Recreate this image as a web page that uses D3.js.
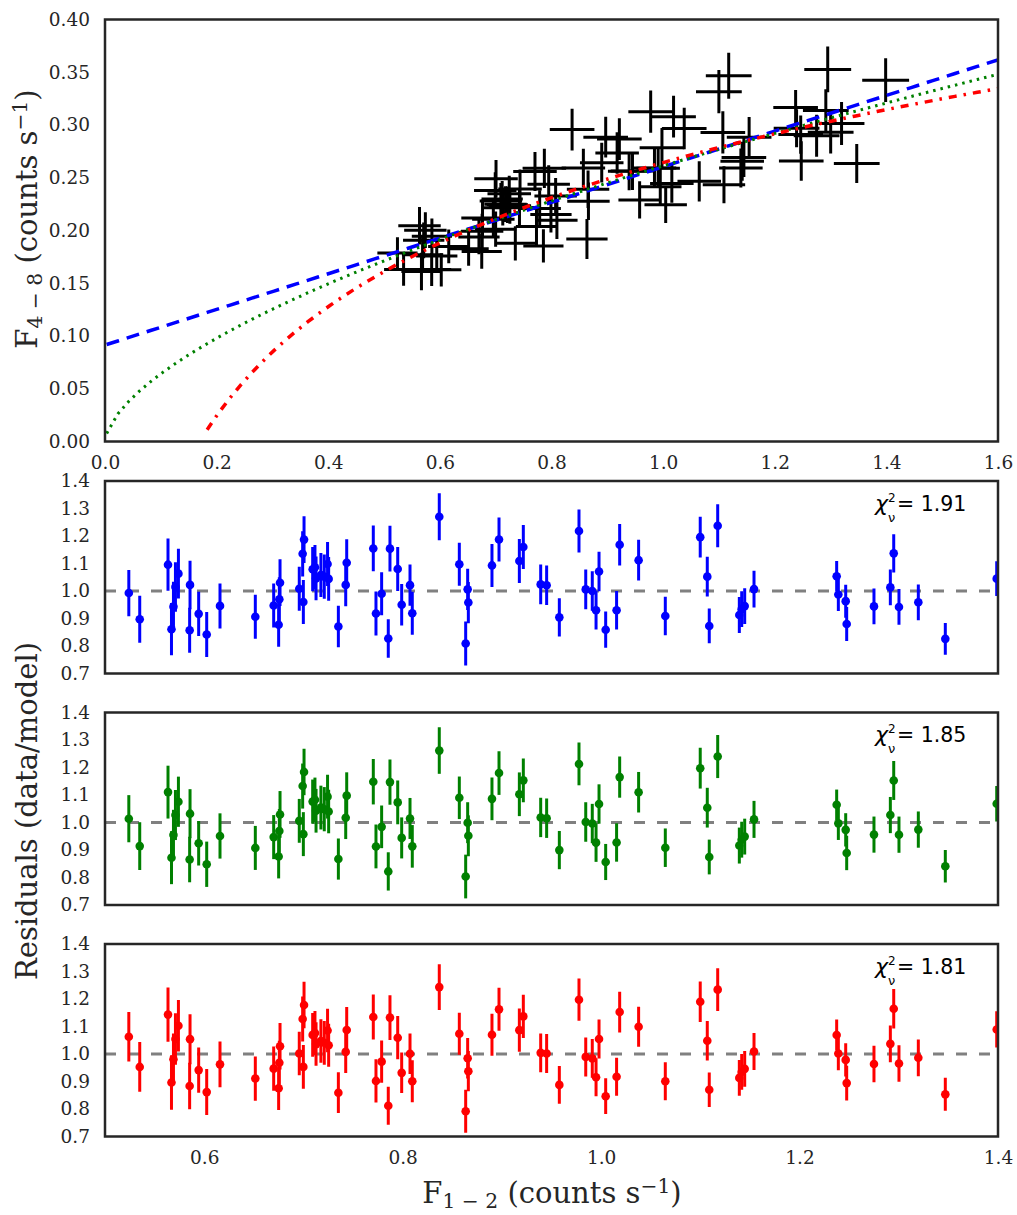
<!DOCTYPE html>
<html>
<head>
<meta charset="utf-8">
<script src="https://cdn.jsdelivr.net/npm/d3@7"></script>
<style>
  body { margin: 0; background: #ffffff; }
  svg { display: block; }
</style>
</head>
<body>
<svg id="chart" width="1017" height="1215"></svg>
<script>
// Soft-band flux F(1-2) and its 1-sigma error (counts/s)
const fluxSoft = [0.524,0.535,0.5635,0.567,0.569,0.571,0.574,0.5857,0.5853,0.5944,
  0.6025,0.6159,0.6515,0.670,0.6757,0.6764,0.6750,0.6958,0.6999,0.6992,
  0.7006,0.7093,0.7116,0.7127,0.7176,0.7210,0.7243,0.7254,0.7352,0.7436,
  0.7426,0.7704,0.7731,0.7788,0.7855,0.7872,0.7950,0.799,0.8074,0.8097,
  0.8369,0.8571,0.8655,0.8662,0.8635,0.890,0.8971,0.9176,0.9216,0.9391,
  0.9451,0.9579,0.9777,0.9845,0.9911,0.9949,0.9979,1.0046,1.0156,1.0187,
  1.0378,1.0647,1.0999,1.107,1.109,1.1175,1.1393,1.1417,1.1447,1.1541,
  1.2374,1.2391,1.2465,1.2475,1.275,1.2915,1.2949,1.3002,1.3197,1.3469,1.3987];
const errSoft = [0.036,0.035,0.038,0.036,0.037,0.037,0.038,0.036,0.035,0.037,
  0.036,0.037,0.036,0.037,0.038,0.038,0.036,0.038,0.037,0.038,
  0.039,0.038,0.037,0.038,0.038,0.037,0.039,0.038,0.036,0.039,
  0.037,0.039,0.037,0.038,0.036,0.039,0.038,0.037,0.038,0.037,
  0.040,0.039,0.038,0.038,0.037,0.039,0.040,0.039,0.040,0.038,
  0.039,0.038,0.040,0.039,0.039,0.038,0.040,0.038,0.039,0.040,
  0.040,0.039,0.041,0.040,0.038,0.041,0.039,0.039,0.040,0.040,
  0.040,0.041,0.040,0.040,0.041,0.041,0.042,0.041,0.041,0.041,0.042];

// Hard-band flux F(4-8) and its 1-sigma error (counts/s)
const fluxHard = [0.1786,0.1631,0.2045,0.1612,0.1769,0.1907,0.2003,0.1946,0.1631,0.1759,
  0.1627,0.1849,0.1826,0.1938,0.1994,0.2119,0.1802,0.2107,0.2013,0.2379,
  0.2490,0.2280,0.2299,0.2216,0.2250,0.2244,0.2348,0.2234,0.1878,0.2394,
  0.2217,0.2559,0.2039,0.2208,0.1854,0.2590,0.2438,0.2151,0.2327,0.2098,
  0.2957,0.2592,0.2391,0.2278,0.1920,0.2643,0.2885,0.2734,0.2867,0.2561,
  0.2564,0.2290,0.3126,0.2593,0.2589,0.2414,0.2785,0.2244,0.2446,0.3079,
  0.2967,0.2466,0.3316,0.2930,0.2434,0.3467,0.2592,0.2656,0.2692,0.2884,
  0.3167,0.2969,0.2909,0.2659,0.2897,0.3137,0.3527,0.2931,0.3015,0.2635,0.3425];
const errHard = [0.0151,0.0155,0.0177,0.0178,0.0169,0.0169,0.0170,0.0168,0.0156,0.0154,
  0.0158,0.0160,0.0161,0.0164,0.0164,0.0175,0.0164,0.0167,0.0168,0.0172,
  0.0178,0.0170,0.0171,0.0169,0.0170,0.0172,0.0171,0.0170,0.0162,0.0185,
  0.0169,0.0184,0.0178,0.0174,0.0157,0.0186,0.0181,0.0170,0.0171,0.0178,
  0.0198,0.0184,0.0178,0.0178,0.0190,0.0189,0.0194,0.0197,0.0198,0.0180,
  0.0181,0.0177,0.0200,0.0186,0.0186,0.0182,0.0187,0.0172,0.0184,0.0198,
  0.0197,0.0190,0.0205,0.0201,0.0176,0.0219,0.0185,0.0185,0.0185,0.0192,
  0.0165,0.0180,0.0181,0.0187,0.0199,0.0201,0.0217,0.0202,0.0204,0.0185,0.0207];

// Fitted model parameters
const linearFit = [0.0914, 0.169];   // F48 = a + b * F12
const powerFit  = [0.2613, 0.61];    // F48 = A * F12^g
const logFit    = [0.2644, 0.1491];  // F48 = a + b * ln(F12)
const chiSquared = ["1.91", "1.85", "1.81"];

// Axis ticks
const topXTicks = [0.0, 0.2, 0.4, 0.6, 0.8, 1.0, 1.2, 1.4, 1.6];
const topYTicks = [0.00, 0.05, 0.10, 0.15, 0.20, 0.25, 0.30, 0.35, 0.40];
const resXTicks = [0.6, 0.8, 1.0, 1.2, 1.4];
const resYTicks = [0.7, 0.8, 0.9, 1.0, 1.1, 1.2, 1.3, 1.4];

const svg = d3.select("#chart");
const serif = "'DejaVu Serif', serif";
const sans = "'DejaVu Sans', 'Liberation Sans', sans-serif";
const frameColor = "#262626";
const tickColor = "#262626";

const plotLeft = 105, plotRight = 998;

const models = [
  { color: "#0000ff", dash: "13,8", width: 3.5,
    f: x => linearFit[0] + linearFit[1] * x, chi: chiSquared[0] },
  { color: "#008000", dash: "2.5,5", width: 3,
    f: x => powerFit[0] * Math.pow(x, powerFit[1]), chi: chiSquared[1] },
  { color: "#ff0000", dash: "8,7,2.5,7", width: 3.5,
    f: x => logFit[0] + logFit[1] * Math.log(x), chi: chiSquared[2] }
];

const points = fluxSoft.map((x, i) => ({ x, y: fluxHard[i], ex: errSoft[i], ey: errHard[i] }));

// ---------- Flux-flux panel ----------
const fluxPanel = { y0: 19.5, y1: 441.5 };
const xTop = d3.scaleLinear().domain([0, 1.6]).range([plotLeft, plotRight]);
const yTop = d3.scaleLinear().domain([0, 0.4]).range([fluxPanel.y1, fluxPanel.y0]);

const defs = svg.append("defs");
defs.append("clipPath").attr("id", "clip-top")
  .append("rect").attr("x", plotLeft).attr("y", fluxPanel.y0)
  .attr("width", plotRight - plotLeft).attr("height", fluxPanel.y1 - fluxPanel.y0);

const gTop = svg.append("g").attr("clip-path", "url(#clip-top)");

const crosses = gTop.append("g").attr("stroke", "#000").attr("stroke-width", 3);
crosses.selectAll("line.h").data(points).join("line").attr("class", "h")
  .attr("x1", d => xTop(d.x - d.ex)).attr("x2", d => xTop(d.x + d.ex))
  .attr("y1", d => yTop(d.y)).attr("y2", d => yTop(d.y));
crosses.selectAll("line.v").data(points).join("line").attr("class", "v")
  .attr("x1", d => xTop(d.x)).attr("x2", d => xTop(d.x))
  .attr("y1", d => yTop(d.y - d.ey)).attr("y2", d => yTop(d.y + d.ey));

// model curves evaluated on a grid over the soft-flux range
const grid = d3.range(0.003, 1.6105, 0.02);
models.forEach(m => {
  const curve = grid.map(x => [x, m.f(x)]).filter(p => p[1] >= 0);
  gTop.append("path").datum(curve)
    .attr("fill", "none").attr("stroke", m.color)
    .attr("stroke-width", m.width).attr("stroke-dasharray", m.dash)
    .attr("d", d3.line().x(p => xTop(p[0])).y(p => yTop(p[1])));
});

svg.append("rect").attr("x", plotLeft).attr("y", fluxPanel.y0)
  .attr("width", plotRight - plotLeft).attr("height", fluxPanel.y1 - fluxPanel.y0)
  .attr("fill", "none").attr("stroke", frameColor).attr("stroke-width", 2.5);

// tick labels (no tick marks)
const axTopX = d3.axisBottom(xTop).tickValues(topXTicks).tickFormat(d3.format(".1f")).tickSize(0).tickPadding(14);
const axTopY = d3.axisLeft(yTop).tickValues(topYTicks).tickFormat(d3.format(".2f")).tickSize(0).tickPadding(15);
function styleAxis(g) {
  g.select(".domain").remove();
  g.selectAll("text").attr("font-family", serif).attr("font-size", 18.5).attr("fill", tickColor);
}
svg.append("g").attr("transform", `translate(0,${fluxPanel.y1})`).call(axTopX).call(styleAxis);
svg.append("g").attr("transform", `translate(${plotLeft},0)`).call(axTopY).call(styleAxis);

// ---------- Residual panels ----------
const resTops = [481, 712.5, 944];
const resH = 192.5;
const xRes = d3.scaleLinear().domain([0.5, 1.4]).range([plotLeft, plotRight]);

models.forEach((m, k) => {
  const y0 = resTops[k], y1 = y0 + resH;
  const yRes = d3.scaleLinear().domain([0.7, 1.4]).range([y1, y0]);
  defs.append("clipPath").attr("id", "clip-res" + k)
    .append("rect").attr("x", plotLeft).attr("y", y0).attr("width", plotRight - plotLeft).attr("height", resH);
  const g = svg.append("g").attr("clip-path", `url(#clip-res${k})`);

  g.append("line").attr("x1", plotLeft).attr("x2", plotRight)
    .attr("y1", yRes(1)).attr("y2", yRes(1))
    .attr("stroke", "#808080").attr("stroke-width", 3).attr("stroke-dasharray", "11,12");

  const res = points.map(p => {
    const mv = m.f(p.x);
    return { x: p.x, r: p.y / mv, e: p.ey / mv };
  });
  g.selectAll("line.err").data(res).join("line").attr("class", "err")
    .attr("x1", d => xRes(d.x)).attr("x2", d => xRes(d.x))
    .attr("y1", d => yRes(d.r - d.e)).attr("y2", d => yRes(d.r + d.e))
    .attr("stroke", m.color).attr("stroke-width", 3);
  g.selectAll("circle").data(res).join("circle")
    .attr("cx", d => xRes(d.x)).attr("cy", d => yRes(d.r)).attr("r", 4.3)
    .attr("fill", m.color);

  svg.append("rect").attr("x", plotLeft).attr("y", y0).attr("width", plotRight - plotLeft).attr("height", resH)
    .attr("fill", "none").attr("stroke", frameColor).attr("stroke-width", 2.5);

  const axY = d3.axisLeft(yRes).tickValues(resYTicks).tickFormat(d3.format(".1f")).tickSize(0).tickPadding(15);
  svg.append("g").attr("transform", `translate(${plotLeft},0)`).call(axY).call(styleAxis);

  if (k === 2) {
    const axX = d3.axisBottom(xRes).tickValues(resXTicks).tickFormat(d3.format(".1f")).tickSize(0).tickPadding(14);
    svg.append("g").attr("transform", `translate(0,${y1})`).call(axX).call(styleAxis);
  }

  // reduced chi-squared label: chi with stacked 2 / nu, then the value
  const base = y0 + 29.5;
  const lab = svg.append("text").attr("x", 875).attr("y", base)
    .attr("font-family", sans).attr("fill", "#000").attr("font-size", 20.5);
  lab.append("tspan").attr("font-size", 22).attr("font-style", "italic").text("χ");
  lab.append("tspan").attr("x", 888).attr("dy", -9).attr("font-size", 12).text("2");
  lab.append("tspan").attr("x", 888).attr("dy", 20).attr("font-size", 13).text("ν");
  lab.append("tspan").attr("x", 897).attr("dy", -11).text("= " + m.chi);
});

// ---------- Axis titles ----------
function fluxLabel(sel, sub, size) {
  sel.append("tspan").text("F");
  sel.append("tspan").attr("font-size", size * 0.7).attr("dy", size * 0.18).text(sub);
  sel.append("tspan").attr("dy", -size * 0.18).text(" (counts s");
  sel.append("tspan").attr("font-size", size * 0.7).attr("dy", -size * 0.36).text("−1");
  sel.append("tspan").attr("dy", size * 0.36).text(")");
}

const titleSize = 29;
const yTitle = svg.append("text")
  .attr("transform", "translate(37,219) rotate(-90)")
  .attr("text-anchor", "middle").attr("font-family", serif)
  .attr("font-size", titleSize).attr("fill", tickColor);
fluxLabel(yTitle, "4 − 8", titleSize);

svg.append("text")
  .attr("transform", "translate(37,811) rotate(-90)")
  .attr("text-anchor", "middle").attr("font-family", serif)
  .attr("font-size", titleSize).attr("fill", tickColor)
  .text("Residuals (data/model)");

const xTitle = svg.append("text")
  .attr("x", 552).attr("y", 1203)
  .attr("text-anchor", "middle").attr("font-family", serif)
  .attr("font-size", titleSize).attr("fill", tickColor);
fluxLabel(xTitle, "1 − 2", titleSize);
</script>
</body>
</html>
